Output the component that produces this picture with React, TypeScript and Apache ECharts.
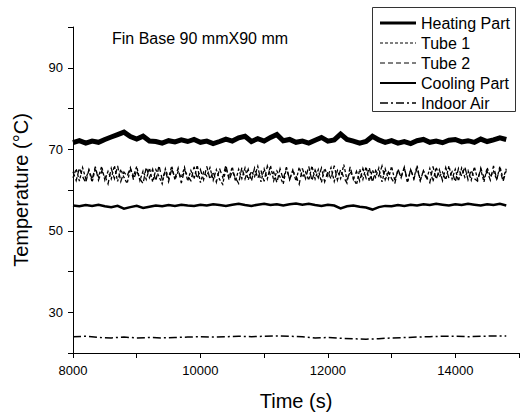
import React, { useEffect, useRef } from "react";
import * as echarts from "echarts";

// ---------- data ----------
const timeStart = 8000;
const stepMain = 100; // s, heating & cooling
const stepTube = 50; // s, tube 1 & tube 2
const stepAir = 200; // s, indoor air

const seriesNames = ["Heating Part", "Tube 1", "Tube 2", "Cooling Part", "Indoor Air"];

const heatingPart = [
  71.6, 72.1, 71.5, 72.0, 71.7, 72.4, 73.0, 73.6, 74.2, 73.1,
  72.5, 73.2, 72.0, 71.9, 71.5, 72.1, 71.8, 72.3, 71.9, 72.4,
  71.7, 72.0, 71.4, 71.9, 72.5, 72.0, 72.8, 73.2, 71.9, 72.6,
  72.0, 72.9, 73.6, 72.1, 72.4, 71.7, 72.0, 71.5, 72.2, 72.9,
  72.0, 72.3, 73.7, 72.4, 72.0, 71.5, 71.9, 73.2, 72.3, 71.7,
  72.1, 71.5, 71.9, 71.4, 72.1, 72.4, 71.7, 72.0, 71.6, 72.2,
  72.4, 71.8, 72.1, 71.7, 72.5, 71.9, 72.3, 72.8, 72.4,
];

const coolingPart = [
  56.2, 56.0, 56.3, 56.1, 56.4, 56.0, 55.8, 56.1, 55.4, 55.8,
  56.1, 55.6, 55.9, 56.2, 56.0, 56.3, 56.1, 56.4, 56.2, 56.1,
  56.4, 56.2, 56.5, 56.3, 56.1, 56.4, 56.6, 56.3, 56.1, 56.4,
  56.6, 56.3, 56.5, 56.2, 56.5, 56.7, 56.4, 56.6, 56.3, 56.1,
  56.4, 56.2, 55.5, 56.0, 56.2, 55.9, 55.7, 55.2, 55.8, 56.1,
  56.0, 56.3, 56.1, 56.4, 56.2, 56.5, 56.3, 56.6, 56.4, 56.2,
  56.5, 56.3, 56.6, 56.4, 56.2, 56.5, 56.3, 56.6, 56.2,
];

const tube1 = [
  63.0, 65.2, 62.2, 65.5, 62.8, 64.9, 61.9, 65.3, 63.2, 65.8,
  62.4, 64.6, 62.7, 66.0, 62.1, 65.1, 63.1, 61.6, 65.3, 63.4,
  65.8, 62.3, 64.7, 62.6, 65.4, 62.0, 65.0, 63.3, 61.5, 65.2,
  62.9, 65.9, 62.5, 64.5, 63.0, 65.6, 62.2, 64.8, 62.7, 66.1,
  61.8, 64.4, 63.4, 65.5, 62.4, 65.0, 62.6, 61.4, 65.3, 63.1,
  65.7, 62.1, 65.1, 62.8, 65.4, 62.5, 64.6, 63.3, 65.8, 62.0,
  65.2, 62.7, 66.0, 62.3, 64.7, 63.2, 61.5, 65.4, 62.6, 64.9,
  62.2, 65.6, 63.1, 64.4, 62.4, 65.9, 62.7, 65.0, 61.9, 65.3,
  63.4, 65.5, 62.1, 64.8, 62.8, 66.2, 62.5, 64.5, 63.0, 61.3,
  65.1, 62.6, 65.7, 62.2, 64.9, 63.1, 65.4, 62.0, 65.2, 62.7,
  65.8, 62.4, 64.6, 63.3, 65.5, 61.8, 65.0, 62.8, 66.0, 62.3,
  64.7, 62.6, 65.3, 62.1, 65.6, 63.2, 64.4, 62.5, 65.9, 62.7,
  65.1, 62.2, 65.4, 63.1, 64.8, 62.4, 65.7, 62.6, 65.0, 62.0,
  65.5, 63.3, 64.6, 62.5, 65.8, 62.8, 65.2,
];

const tube2 = [
  64.5, 62.3, 65.4, 63.3, 61.8, 65.0, 62.6, 65.7, 62.4, 64.6,
  63.5, 61.5, 65.3, 62.8, 65.9, 62.1, 64.4, 63.4, 65.5, 62.5,
  64.8, 62.7, 61.6, 65.6, 63.0, 65.1, 62.2, 66.0, 62.6, 64.7,
  62.0, 65.2, 62.9, 65.4, 61.7, 64.9, 63.4, 62.3, 65.7, 62.8,
  65.0, 62.5, 65.8, 62.6, 64.5, 61.9, 65.3, 63.1, 66.1, 62.4,
  64.6, 63.0, 61.6, 65.5, 62.7, 65.1, 62.2, 65.4, 62.9, 64.8,
  62.1, 65.9, 63.5, 64.4, 61.8, 65.2, 62.6, 65.6, 62.5, 64.7,
  63.4, 61.4, 65.3, 62.8, 65.8, 62.3, 64.9, 63.0, 65.4, 62.0,
  64.5, 62.7, 66.0, 62.4, 65.0, 63.1, 61.7, 65.7, 62.6, 64.6,
  62.2, 65.3, 62.9, 65.5, 61.9, 64.8, 63.4, 65.9, 62.5, 64.4,
  62.8, 61.5, 65.2, 63.0, 65.6, 62.1, 65.1, 62.7, 65.4, 62.4,
  64.7, 63.1, 61.8, 65.8, 62.6, 65.0, 62.3, 65.5, 62.9, 64.5,
  62.0, 65.3, 63.4, 65.7, 62.5, 64.9, 62.8, 62.2, 65.4, 63.0,
  64.6, 62.4, 65.9, 62.7, 65.1, 62.1, 64.8,
];

const indoorAir = [
  24.0, 24.1, 23.8, 23.7, 23.9, 23.7, 23.8, 23.7, 23.8, 23.9,
  24.0, 23.9, 24.0, 24.1, 24.0, 24.1, 24.2, 24.1, 24.0, 23.7,
  23.8, 23.6, 23.5, 23.4, 23.5, 23.7, 23.8, 23.9, 24.0, 24.1,
  24.1, 24.0, 24.1, 24.2, 24.2,
];

const xTickLabels = [8000, 10000, 12000, 14000];
const yTickLabels = [30, 50, 70, 90];

const chartTitle = "Fin Base 90 mmX90 mm";
const xTitle = "Time (s)";
const yTitle = "Temperature (°C)";

// line styles for each series (same order as seriesNames)
const lineWidths = [5, 1.3, 1.3, 2.5, 1.5];
const lineDashes: (number[] | null)[] = [null, [3, 2], [5, 3], null, [8, 3, 2, 3]];
const legendWidths = [3, 1, 1, 2, 1.5];

const withTime = (vals: number[], step: number) =>
  vals.map((v, i) => [timeStart + i * step, v]);

const FONT = "'Liberation Sans', Arial, sans-serif";

export default function App() {
  const ref = useRef<HTMLDivElement>(null);

  useEffect(() => {
    if (!ref.current) return;
    const chart = echarts.init(ref.current, null, { renderer: "svg" });

    const datasets = [
      withTime(heatingPart, stepMain),
      withTime(tube1, stepTube),
      withTime(tube2, stepTube),
      withTime(coolingPart, stepMain),
      withTime(indoorAir, stepAir),
    ];

    const series = seriesNames.map((name, i) => ({
      type: "line",
      name,
      data: datasets[i],
      symbol: "none",
      showSymbol: false,
      silent: true,
      color: "#000",
      z: i === 0 ? 5 : 2,
      lineStyle: {
        color: "#000",
        width: lineWidths[i],
        type: lineDashes[i] ?? "solid",
        join: "miter",
      },
    }));

    // legend drawn as graphic elements
    const legendLeft = 372;
    const legendTop = 7;
    const rowH = 20;
    const legendItems: any[] = [
      {
        type: "rect",
        shape: { x: legendLeft + 0.5, y: legendTop + 0.5, width: 143, height: 104 },
        style: { fill: "#fff", stroke: "#333", lineWidth: 1 },
        z: 100,
      },
    ];
    seriesNames.forEach((name, i) => {
      const cy = legendTop + 16 + i * rowH;
      legendItems.push({
        type: "line",
        shape: { x1: legendLeft + 8, y1: cy, x2: legendLeft + 44, y2: cy },
        style: {
          stroke: "#000",
          lineWidth: legendWidths[i],
          lineDash: lineDashes[i] ?? undefined,
        },
        z: 101,
      });
      legendItems.push({
        type: "text",
        x: legendLeft + 49,
        y: cy,
        style: {
          text: name,
          fill: "#000",
          font: `16px ${FONT}`,
          verticalAlign: "middle",
          align: "left",
        },
        z: 101,
      });
    });

    chart.setOption({
      animation: false,
      backgroundColor: "#fff",
      textStyle: { fontFamily: FONT, color: "#000" },
      title: {
        text: chartTitle,
        left: 112,
        top: 30,
        padding: 0,
        textStyle: { fontFamily: FONT, fontSize: 16, fontWeight: "normal", color: "#000" },
      },
      grid: { left: 73, right: 2, top: 27, bottom: 60, containLabel: false },
      xAxis: {
        type: "value",
        min: 8000,
        max: 15000,
        interval: 1000,
        name: xTitle,
        nameLocation: "middle",
        nameGap: 38,
        nameTextStyle: { fontFamily: FONT, fontSize: 20, color: "#000000" },
        axisLine: { show: true, onZero: false, lineStyle: { color: "#000", width: 1 } },
        axisTick: { show: true, inside: false, length: 5, lineStyle: { color: "#000" } },
        axisLabel: {
          margin: 11,
          fontFamily: FONT,
          fontSize: 13,
          color: "#000",
          formatter: (v: number) => (xTickLabels.includes(v) ? String(v) : ""),
        },
        splitLine: { show: false },
      },
      yAxis: {
        type: "value",
        min: 20,
        max: 100,
        interval: 10,
        name: yTitle,
        nameLocation: "middle",
        nameGap: 42,
        nameTextStyle: { fontFamily: FONT, fontSize: 20, color: "#000000" },
        axisLine: { show: true, onZero: false, lineStyle: { color: "#000", width: 1 } },
        axisTick: { show: true, inside: false, length: 5, lineStyle: { color: "#000" } },
        axisLabel: {
          margin: 10,
          fontFamily: FONT,
          fontSize: 13,
          color: "#000",
          formatter: (v: number) => (yTickLabels.includes(v) ? String(v) : ""),
        },
        splitLine: { show: false },
      },
      graphic: legendItems,
      series,
    });

    return () => chart.dispose();
  }, []);

  return (
    <div
      ref={ref}
      style={{ position: "fixed", left: 0, top: 0, width: 522, height: 416, background: "#fff" }}
    />
  );
}
